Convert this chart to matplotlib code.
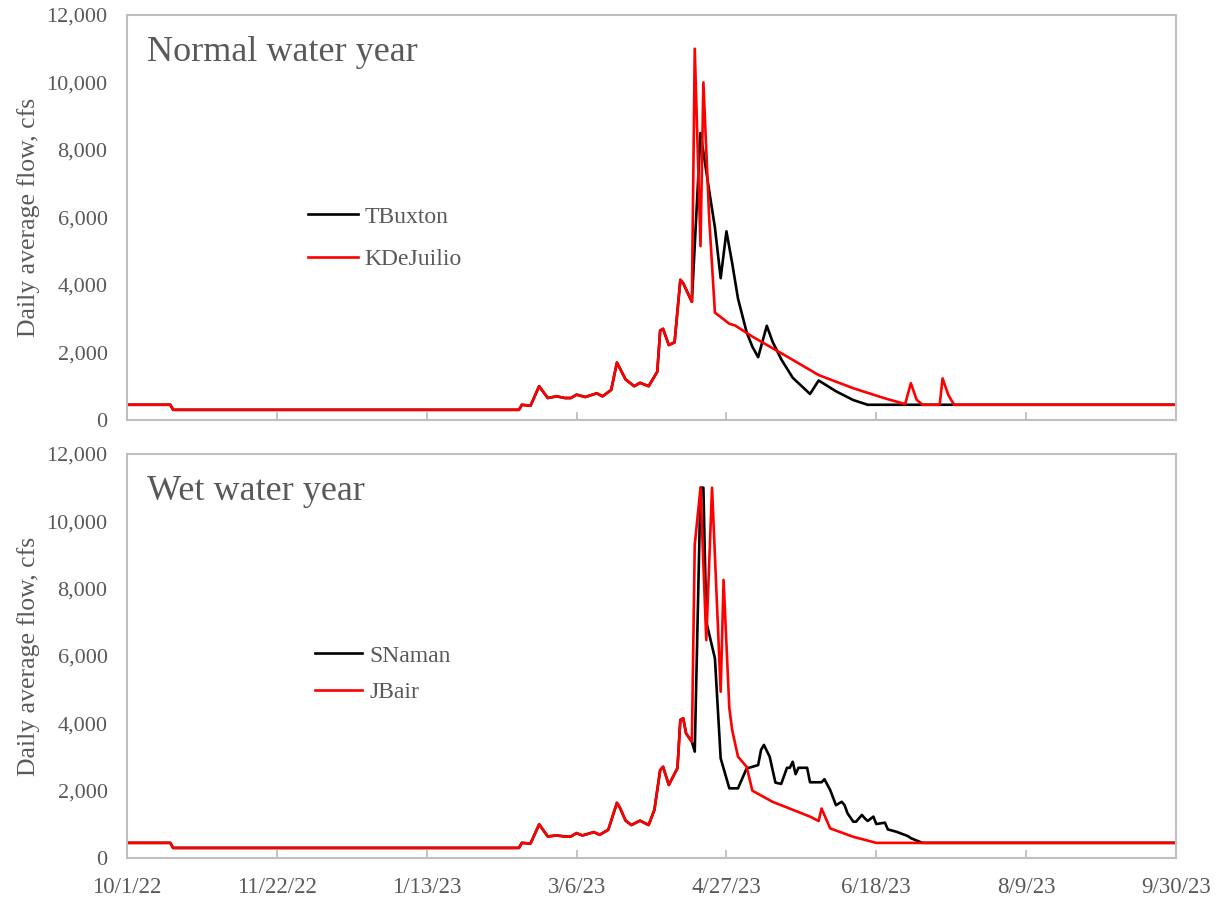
import numpy as np
import matplotlib
matplotlib.use("Agg")
import matplotlib.pyplot as plt

plt.rcParams['font.family'] = ['Liberation Serif', 'DejaVu Serif']

# day offsets from 10/1/22 and daily average flow (cfs)
start = np.datetime64('2022-10-01')

rise_days = [0, 15, 16, 136, 137, 140, 143, 146, 149, 152, 154, 156, 159, 163, 165,
             168, 170, 173, 176, 178, 181, 184, 185, 186, 188, 190, 192, 193, 196]
rise_flow = [450, 450, 300, 300, 450, 420, 1000, 650, 700, 650, 650, 750, 680, 790, 700,
             890, 1700, 1200, 1000, 1100, 1000, 1430, 2650, 2700, 2220, 2300, 4150, 4050, 3500]

# normal water year
tbuxton_days = rise_days + [199, 202, 204, 206, 208, 210, 212, 215, 217, 219, 222, 224,
                            227, 231, 234, 237, 240, 246, 252, 257, 364]
tbuxton_flow = rise_flow + [8500, 6800, 5700, 4200, 5590, 4640, 3600, 2600, 2170, 1860, 2790, 2320,
                            1800, 1250, 1010, 770, 1170, 850, 590, 450, 450]

kdejuilio_days = rise_days + [197, 199, 200, 202, 204, 206, 209, 211, 217, 229, 240, 252,
                              263, 270, 272, 274, 276, 282, 283, 285, 287, 364]
kdejuilio_flow = rise_flow + [11000, 5150, 10000, 6000, 3180, 3050, 2850, 2800, 2470, 1880, 1330, 940,
                              640, 470, 1090, 600, 450, 450, 1230, 740, 450, 450]

# wet water year
wet_rise_days = [0, 15, 16, 136, 137, 140, 143, 146, 149, 152, 154, 156, 158, 162, 164,
                 167, 170, 171, 173, 175, 178, 181, 183, 185, 186, 188, 191, 192, 193, 194, 196]
wet_rise_flow = [450, 450, 300, 300, 450, 430, 1000, 640, 670, 640, 640, 740, 670, 770, 690,
                 840, 1640, 1500, 1110, 980, 1110, 980, 1430, 2610, 2710, 2170, 2670, 4100, 4150, 3700, 3450]

snaman_days = wet_rise_days + [197, 199, 200, 201, 204, 206, 209, 212, 215, 219, 220, 221, 223,
                               225, 227, 229, 230, 231, 232, 233, 236, 237, 241, 242, 244, 246,
                               248, 249, 250, 252, 253, 255, 256, 257, 259, 260, 263, 264, 267,
                               271, 272, 276, 364]
snaman_flow = wet_rise_flow + [3160, 11000, 11000, 7020, 5930, 2960, 2070, 2070, 2660, 2760, 3210, 3360, 3010,
                               2240, 2200, 2680, 2680, 2860, 2490, 2680, 2680, 2250, 2250, 2340, 2020, 1570,
                               1670, 1570, 1330, 1080, 1080, 1280, 1180, 1100, 1230, 1010, 1050, 850, 780,
                               650, 590, 450, 450]

jbair_days = wet_rise_days + [197, 199, 201, 203, 206, 207, 209, 210, 212, 215, 217, 224,
                              237, 240, 241, 244, 252, 260, 364]
jbair_flow = wet_rise_flow + [9300, 11000, 6470, 11000, 4940, 8260, 4450, 3800, 3010, 2710, 2000, 1670,
                              1230, 1100, 1470, 880, 630, 450, 450]

tick_days = [0, 52, 104, 156, 208, 260, 312, 364]
tick_labels = ['10/1/22', '11/22/22', '1/13/23', '3/6/23', '4/27/23', '6/18/23', '8/9/23', '9/30/23']
y_ticks = [0, 2000, 4000, 6000, 8000, 10000, 12000]

gray = '#595959'
frame = '#bfbfbf'

fig = plt.figure(figsize=(12.17, 9.01), dpi=100)
ax1 = fig.add_axes([0.1044, 0.5339, 0.8619, 0.4495])
ax2 = fig.add_axes([0.1044, 0.0477, 0.8619, 0.4484])


def style(ax, title, show_labels):
    ax.set_xlim(start, start + np.timedelta64(364, 'D'))
    ax.set_ylim(0, 12000)
    ax.set_xticks(start + np.array(tick_days, dtype='timedelta64[D]'))
    if show_labels:
        ax.set_xticklabels(tick_labels)
    else:
        ax.set_xticklabels([])
    ax.set_yticks(y_ticks)
    ax.set_yticklabels([f'{v:,}' for v in y_ticks])
    ax.tick_params(axis='x', direction='in', length=6, width=1.3, color=frame,
                   labelsize=16.5, labelcolor=gray, pad=14)
    ax.tick_params(axis='y', length=0, labelsize=16, labelcolor=gray, pad=14)
    for s in ax.spines.values():
        s.set_color(frame)
        s.set_linewidth(1.5)
    ax.set_ylabel('Daily average flow, cfs', fontsize=18.5, color=gray, labelpad=5)
    ax.text(0.019, 0.886, title, transform=ax.transAxes, fontsize=26, color=gray,
            va='baseline', ha='left')


ax1.plot(start + np.array(tbuxton_days, dtype='timedelta64[D]'), tbuxton_flow,
         color='black', lw=1.9, label='TBuxton')
ax1.plot(start + np.array(kdejuilio_days, dtype='timedelta64[D]'), kdejuilio_flow,
         color='red', lw=1.9, label='KDeJuilio')
style(ax1, 'Normal water year', False)
ax1.legend(loc='upper left', bbox_to_anchor=(0.1725, 0.528), frameon=False, fontsize=17,
           handlelength=2.1, handletextpad=0.3, labelspacing=0.88, borderpad=0,
           borderaxespad=0, labelcolor=gray)

ax2.plot(start + np.array(snaman_days, dtype='timedelta64[D]'), snaman_flow,
         color='black', lw=1.9, label='SNaman')
ax2.plot(start + np.array(jbair_days, dtype='timedelta64[D]'), jbair_flow,
         color='red', lw=1.9, label='JBair')
style(ax2, 'Wet water year', True)
ax2.legend(loc='upper left', bbox_to_anchor=(0.179, 0.527), frameon=False, fontsize=17,
           handlelength=2.0, handletextpad=0.3, labelspacing=0.62, borderpad=0,
           borderaxespad=0, labelcolor=gray)

fig.savefig('out.png', dpi=100)
